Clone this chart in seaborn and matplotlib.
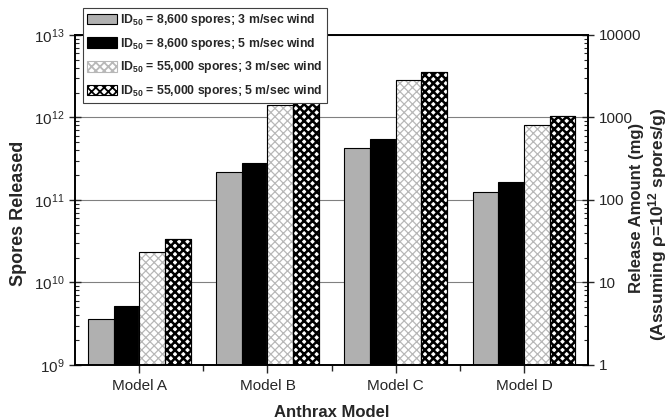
import matplotlib
matplotlib.use("Agg")
import matplotlib.pyplot as plt
from matplotlib.patches import Rectangle
from matplotlib.ticker import LogLocator, FixedLocator, NullFormatter, FuncFormatter
import seaborn as sns
import pandas as pd
import numpy as np

# Release estimates (spores) per model and scenario
models = ["Model A", "Model B", "Model C", "Model D"]
scenarios = [
    "ID$_{\\mathbf{50}}$ = 8,600 spores; 3 m/sec wind",
    "ID$_{\\mathbf{50}}$ = 8,600 spores; 5 m/sec wind",
    "ID$_{\\mathbf{50}}$ = 55,000 spores; 3 m/sec wind",
    "ID$_{\\mathbf{50}}$ = 55,000 spores; 5 m/sec wind",
]
id8600_3ms = [3.6e9, 2.2e11, 4.3e11, 1.26e11]
id8600_5ms = [5.2e9, 2.8e11, 5.4e11, 1.67e11]
id55000_3ms = [2.35e10, 1.41e12, 2.85e12, 8.1e11]
id55000_5ms = [3.4e10, 1.78e12, 3.53e12, 1.05e12]

left_ticks = [1e9, 1e10, 1e11, 1e12, 1e13]
right_ticks = [1, 10, 100, 1000, 10000]
spores_per_mg = 1e9  # rho = 1e12 spores/g

sns.set_theme(style="ticks")
plt.rcParams["font.family"] = ["Liberation Sans", "DejaVu Sans"]
plt.rcParams["mathtext.fontset"] = "custom"
plt.rcParams["mathtext.rm"] = "Liberation Sans"
plt.rcParams["mathtext.bf"] = "Liberation Sans:bold"
plt.rcParams["mathtext.it"] = "Liberation Sans:italic"
plt.rcParams["hatch.linewidth"] = 1.3

df = pd.DataFrame({
    "model": models * 4,
    "scenario": np.repeat(scenarios, 4),
    "spores": id8600_3ms + id8600_5ms + id55000_3ms + id55000_5ms,
})

fill_colors = ["#b0b0b0", "#000000", "#ffffff", "#ffffff"]

fig = plt.figure(figsize=(6.7, 4.2), dpi=100)
ax = fig.add_axes([0.112, 0.131, 0.766, 0.786])

sns.barplot(data=df, x="model", y="spores", hue="scenario", hue_order=scenarios,
            palette=fill_colors, saturation=1, width=0.8, gap=0,
            edgecolor="black", linewidth=0.8, ax=ax, legend=False, zorder=2)

ax.set_yscale("log")
ax.set_ylim(left_ticks[0], left_ticks[-1])
ax.set_xlim(-0.5, len(models) - 0.5)

# hatch styling: light grey cross-hatch and bold black cross-hatch
hatch_styles = [(None, None), (None, None), ("xxxx", "#b8b8b8"), ("xxxx", "black")]
for container, (hatch, hcolor) in zip(ax.containers, hatch_styles):
    for bar in container:
        if hatch is None:
            continue
        bar.set_hatch(hatch)
        bar.set_edgecolor(hcolor)
        if hasattr(bar, "set_hatch_linewidth"):
            bar.set_hatch_linewidth(0.9 if hcolor != "black" else 1.8)
        outline = Rectangle(bar.get_xy(), bar.get_width(), bar.get_height(),
                            fill=False, edgecolor="black", linewidth=0.8, zorder=3)
        ax.add_patch(outline)

ax.grid(axis="y", which="major", color="#808080", linewidth=0.8, zorder=0)
ax.set_axisbelow(True)

ax.yaxis.set_major_locator(FixedLocator(left_ticks))
ax.yaxis.set_minor_locator(LogLocator(base=10, subs=np.arange(2, 10)))
ax.yaxis.set_minor_formatter(NullFormatter())
ax.yaxis.set_major_formatter(FuncFormatter(lambda v, p: f"$10^{{{int(round(np.log10(v)))}}}$"))
ax.tick_params(axis="y", which="major", direction="inout", length=8, width=1, labelsize=11)
ax.tick_params(axis="y", which="minor", direction="in", length=3, width=0.8)

ax.xaxis.set_minor_locator(FixedLocator(np.arange(0.5, len(models) - 1, 1.0)))
ax.tick_params(axis="x", which="major", direction="out", length=6, width=1, labelsize=11, pad=4)
ax.tick_params(axis="x", which="minor", direction="out", length=4, width=1)

for s in ax.spines.values():
    s.set_linewidth(1.2)
    s.set_color("black")

ax.set_xlabel("Anthrax Model", fontsize=12, fontweight="bold", labelpad=9)
ax.set_ylabel("Spores Released", fontsize=13, fontweight="bold")
ax.yaxis.set_label_coords(-0.094, 0.458)

# secondary axis: mass equivalent
ax2 = ax.twinx()
ax2.set_yscale("log")
ax2.set_ylim(left_ticks[0] / spores_per_mg, left_ticks[-1] / spores_per_mg)
ax2.yaxis.set_major_locator(FixedLocator(right_ticks))
ax2.yaxis.set_minor_locator(LogLocator(base=10, subs=np.arange(2, 10)))
ax2.yaxis.set_minor_formatter(NullFormatter())
ax2.yaxis.set_major_formatter(FuncFormatter(lambda v, p: f"{int(round(v))}"))
ax2.tick_params(axis="y", which="major", direction="inout", length=8, width=1, labelsize=11)
ax2.tick_params(axis="y", which="minor", direction="in", length=3, width=0.8)
for s in ax2.spines.values():
    s.set_linewidth(1.2)
    s.set_color("black")

# two-line label for the mass axis
fig.text(636 / 670, 1 - 208 / 420, "Release Amount (mg)", rotation=90,
         ha="center", va="center", fontsize=12, fontweight="bold")
fig.text(658 / 670, 1 - 224 / 420, "(Assuming ρ=10$^{\\mathbf{12}}$ spores/g)",
         rotation=90, ha="center", va="center", fontsize=12.5, fontweight="bold")

handles = []
for container, (hatch, hcolor), fc in zip(ax.containers, hatch_styles, fill_colors):
    h = Rectangle((0, 0), 1, 1, facecolor=fc, edgecolor=hcolor or "black",
                  hatch=hatch, linewidth=0.8)
    handles.append(h)
leg = fig.legend(handles, scenarios, loc="upper left",
                 bbox_to_anchor=(83 / 670, 1 - 8 / 420), borderaxespad=0,
                 prop={"weight": "bold", "size": 8.8}, frameon=True, fancybox=False,
                 edgecolor="#404040", framealpha=1, handlelength=2.4, handleheight=0.95,
                 handletextpad=0.3, labelspacing=0.62, borderpad=0.35)
leg.get_frame().set_linewidth(0.8)

fig.savefig("out.png", dpi=100)
